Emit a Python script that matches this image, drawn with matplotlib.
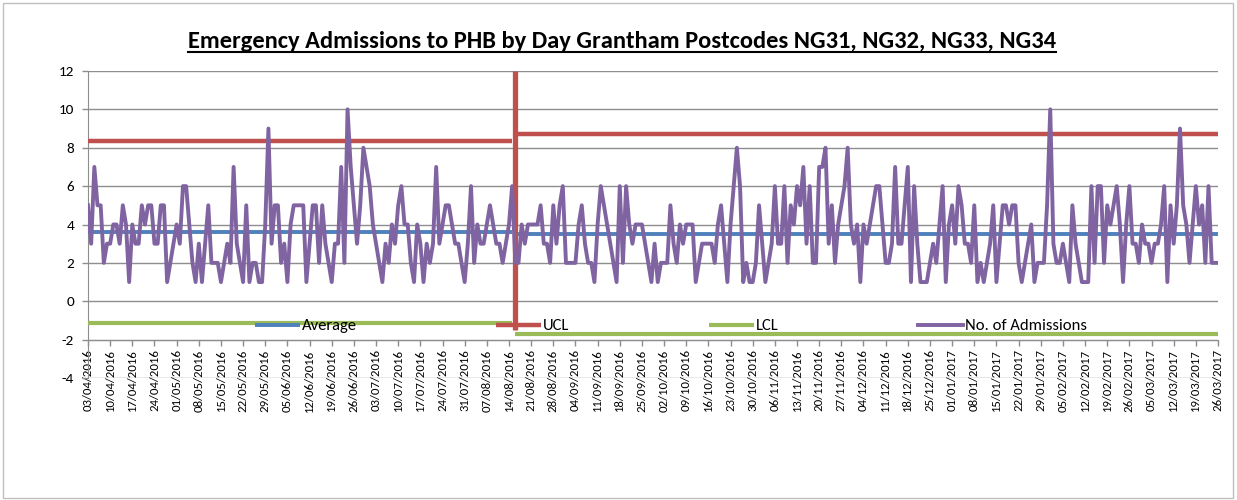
import numpy as np
import pandas as pd
import matplotlib
matplotlib.use('Agg')
import matplotlib.pyplot as plt
from matplotlib import font_manager
from matplotlib.lines import Line2D

# ---------------- data ----------------
start_date = '2016-04-03'
end_date = '2017-03-26'

admissions = [
    # days 0-45
    5, 3, 7, 5, 5, 2, 3, 3, 4, 4, 3, 5, 4, 1, 4, 3, 3, 5, 4, 5, 5, 3, 3, 5, 5, 1, 2, 3, 4, 3,
    6, 6, 4, 2, 1, 3, 1, 3, 5, 2, 2, 2, 1, 2, 3, 2,
    # days 46-90
    7, 3, 2, 1, 5, 1, 2, 2, 1, 1, 4, 9, 3, 5, 5, 2, 3, 1, 4, 5, 5, 5, 5, 1, 3, 5, 5, 2, 5, 3,
    2, 1, 3, 3, 7, 2, 10, 7, 5, 3, 5, 8, 7, 6, 4,
    # days 91-134
    3, 2, 1, 3, 2, 4, 3, 5, 6, 4, 4, 2, 1, 4, 3, 1, 3, 2, 3, 7, 3, 4, 5, 5, 4, 3, 3, 2, 1, 3,
    6, 2, 4, 3, 3, 4, 5, 4, 3, 3, 2, 3, 4, 6,
    # days 135-181
    2, 2, 4, 3, 4, 4, 4, 4, 5, 3, 3, 2, 5, 3, 5, 6, 2, 2, 2, 2, 4, 5, 3, 2, 2, 1, 4, 6, 5, 4,
    3, 2, 1, 6, 2, 6, 4, 3, 4, 4, 4, 3, 2, 1, 3, 1, 2,
    # days 182-229
    2, 2, 5, 3, 2, 4, 3, 4, 4, 4, 1, 2, 3, 3, 3, 3, 2, 4, 5, 3, 1, 4, 6, 8, 6, 1, 2, 1, 1, 2,
    5, 3, 1, 2, 3, 6, 3, 3, 6, 2, 5, 4, 6, 5, 7, 3, 6, 2,
    # days 230-275
    2, 7, 7, 8, 3, 5, 2, 4, 5, 6, 8, 4, 3, 4, 1, 4, 3, 4, 5, 6, 6, 4, 2, 2, 3, 7, 3, 3, 5, 7,
    1, 6, 3, 1, 1, 1, 2, 3, 2, 4, 6, 1, 4, 5, 3, 6,
    # days 276-315
    5, 3, 3, 2, 5, 1, 2, 1, 2, 3, 5, 1, 3, 5, 5, 4, 5, 5, 2, 1, 2, 3, 4, 1, 2, 2, 2, 5, 10, 3,
    2, 2, 3, 2, 1, 5, 3, 2, 1, 1,
    # days 316-357
    1, 6, 2, 6, 6, 2, 5, 4, 5, 6, 4, 1, 4, 6, 3, 3, 2, 4, 3, 3, 2, 3, 3, 4, 6, 1, 5, 3, 5, 9,
    5, 4, 2, 4, 6, 4, 5, 2, 6, 2, 2, 2,
]

period_start = [0, 135]          # first day index of each control period
period_end = [134, 357]          # last day index of each control period
average_values = [3.6, 3.5]
ucl_values = [8.35, 8.7]
lcl_values = [-1.15, -1.7]
change_day = 134.8               # position of the vertical change marker
change_span = [-1.5, 12]

y_ticks = [-4, -2, 0, 2, 4, 6, 8, 10, 12]
tick_every = 7

title_text = 'Emergency Admissions to PHB by Day Grantham Postcodes NG31, NG32, NG33, NG34'
legend_labels = ['Average', 'UCL', 'LCL', 'No. of Admissions']

# ---------------- style ----------------
c_avg = '#4F81BD'
c_ucl = '#C0504D'
c_lcl = '#9BBB59'
c_adm = '#8064A2'
c_grid = '#8E8E8E'

available = {f.name for f in font_manager.fontManager.ttflist}
font = next(f for f in ['Carlito', 'Lato', 'Open Sans', 'DejaVu Sans'] if f in available)
plt.rcParams['font.family'] = [font, 'DejaVu Sans']

W, H = 1237, 500
fig = plt.figure(figsize=(W / 100, H / 100), dpi=100)
ax = fig.add_axes([88 / W, 1 - 378 / H, (1218 - 88) / W, (378 - 71) / H])

dates = pd.date_range(start_date, end_date, freq='D')
x = np.arange(len(dates))
y = np.array(admissions)
assert len(y) == len(x)

# spines first (moving a spine resets tick settings)
for side in ['top', 'right']:
    ax.spines[side].set_visible(False)
ax.spines['left'].set_color(c_grid)
ax.spines['bottom'].set_color(c_grid)
ax.spines['bottom'].set_position(('data', -2))

# control lines
h_avg = h_ucl = h_lcl = None
for s, e, a, u, l in zip(period_start, period_end, average_values, ucl_values, lcl_values):
    xs = x[s:e + 1]
    h_avg, = ax.plot(xs, np.full(len(xs), a), color=c_avg, lw=2.8, solid_capstyle='butt', zorder=3)
    h_ucl, = ax.plot(xs, np.full(len(xs), u), color=c_ucl, lw=3.2, solid_capstyle='butt', zorder=3)
    h_lcl, = ax.plot(xs, np.full(len(xs), l), color=c_lcl, lw=3.0, solid_capstyle='butt', zorder=3)

ax.plot([change_day, change_day], change_span, color=c_ucl, lw=3.8, solid_capstyle='butt', zorder=3)

h_adm, = ax.plot(x, y, color=c_adm, lw=2.8, zorder=4, solid_joinstyle='round')

# axes
ax.set_xlim(x[0], x[-1])
ax.set_ylim(min(y_ticks), max(y_ticks))
ax.set_yticks(y_ticks)
ax.set_yticklabels([str(v) for v in y_ticks], fontsize=11)
ax.grid(axis='y', color=c_grid, lw=1.0, zorder=0)
ax.set_axisbelow(True)

tick_pos = x[::tick_every]
ax.set_xticks(tick_pos)
ax.set_xticklabels([d.strftime('%d/%m/%Y') for d in dates[::tick_every]], fontsize=9.2)
ax.tick_params(axis='both', colors=c_grid, length=4, width=1.0, direction='out')
ax.tick_params(axis='y', labelcolor='black', pad=6)
ax.tick_params(axis='x', labelcolor='black', pad=3, labelrotation=90)
for lab in ax.get_xticklabels():
    lab.set_verticalalignment('top')
    lab.set_horizontalalignment('center')

leg = ax.legend([h_avg, h_ucl, h_lcl, h_adm], legend_labels, ncol=4, frameon=False,
                loc='center left', bbox_to_anchor=((255 - 88) / 1130, (378 - 326) / 307),
                borderaxespad=0, borderpad=0, fontsize=12, handlelength=2.7,
                handletextpad=0.12, columnspacing=8.35)

# title with underline
title = fig.text(622 / W, 1 - 42 / H, title_text, ha='center', va='center',
                 fontsize=14, fontweight='bold')
fig.canvas.draw()
r = fig.canvas.get_renderer()
bb = title.get_window_extent(r)
title.set_fontsize(14 * 870 / bb.width)
fig.canvas.draw()
bb = title.get_window_extent(r)
uy = (H - 52) / H
fig.add_artist(Line2D([bb.x0 / W, bb.x1 / W], [uy, uy], transform=fig.transFigure,
                      color='black', lw=1.5))

# chart border
fig.add_artist(plt.Rectangle((3 / W, 2 / H), (W - 7) / W, (H - 5) / H, transform=fig.transFigure,
                             fill=False, edgecolor='#BFBFBF', lw=1.0))

fig.savefig('out.png', dpi=100)
